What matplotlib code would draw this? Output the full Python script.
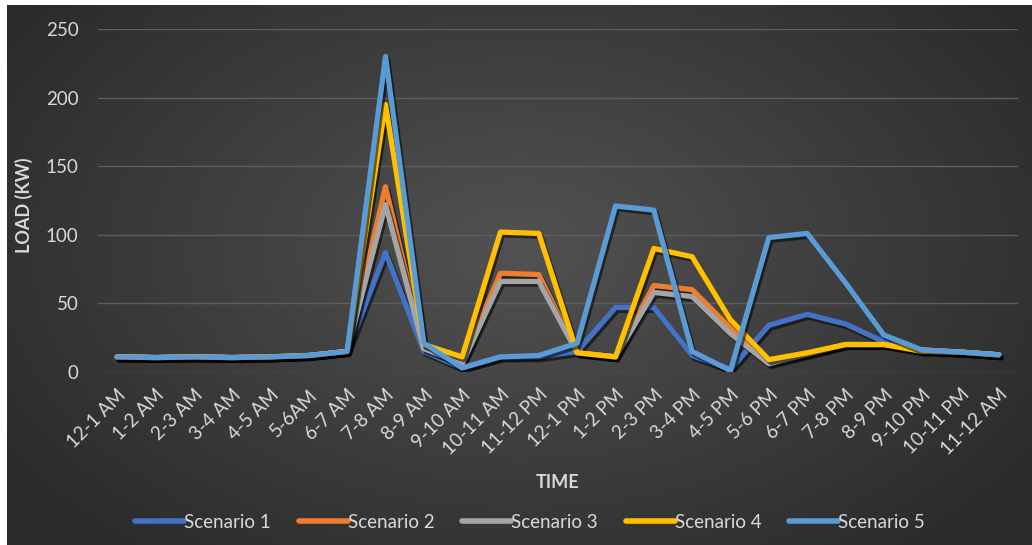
import numpy as np
import matplotlib
matplotlib.use("Agg")
import matplotlib.pyplot as plt
import matplotlib.patheffects as pe

# Hourly load profile for five scenarios (kW)
time_slots = ["12-1 AM", "1-2 AM", "2-3 AM", "3-4 AM", "4-5 AM", "5-6AM", "6-7 AM",
              "7-8 AM", "8-9 AM", "9-10 AM", "10-11 AM", "11-12 PM", "12-1 PM",
              "1-2 PM", "2-3 PM", "3-4 PM", "4-5 PM", "5-6 PM", "6-7 PM", "7-8 PM",
              "8-9 PM", "9-10 PM", "10-11 PM", "11-12 AM"]

scenario_1 = [11, 10.5, 11, 10.5, 11, 12, 15, 87, 15, 3, 11, 11, 15, 47, 47, 12, 2, 34, 42, 35, 22, 16, 14.5, 12.5]
scenario_2 = [11, 10.5, 11, 10.5, 11, 12, 15, 135, 18, 7, 72, 71, 14, 11, 63, 60, 32, 7, 13, 20, 20, 16, 14.5, 12.5]
scenario_3 = [11, 10.5, 11, 10.5, 11, 12, 15, 122, 17, 6, 66, 66, 14, 11, 58, 55, 28, 6, 13, 20, 20, 16, 14.5, 12.5]
scenario_4 = [11, 10.5, 11, 10.5, 11, 12, 15, 195, 20, 11, 102, 101, 14, 11, 90, 84, 38, 9, 14, 20, 20, 15, 14.5, 12.5]
scenario_5 = [11, 10.5, 11, 10.5, 11, 12, 15, 230, 21, 3, 11, 12, 21, 121, 118, 15, 1, 98, 101, 65, 27, 16, 14.5, 12.5]

series_names = ["Scenario 1", "Scenario 2", "Scenario 3", "Scenario 4", "Scenario 5"]
series_values = [scenario_1, scenario_2, scenario_3, scenario_4, scenario_5]
series_colors = ["#4472C4", "#ED7D31", "#A5A5A5", "#FFC000", "#5B9BD5"]

y_ticks = [0, 50, 100, 150, 200, 250]

W, H = 1032, 545
fig = plt.figure(figsize=(W / 100, H / 100), dpi=100, facecolor="white")
plt.rcParams["font.family"] = ["Lato", "DejaVu Sans"]

# Dark radial-gradient chart panel
bg = fig.add_axes([7 / W, 0, 1 - 7 / W, 1 - 5 / H])
bg.set_axis_off()
gx, gy = np.meshgrid(np.linspace(0, 1, 400), np.linspace(0, 1, 220))
r = np.sqrt(((gx - 0.5) / 0.62) ** 2 + ((gy - 0.45) / 0.75) ** 2)
r = np.clip(r, 0, 1)
light = np.array([0x52, 0x52, 0x52]) / 255
dark = np.array([0x2a, 0x2a, 0x2a]) / 255
img = light[None, None, :] * (1 - r[..., None]) + dark[None, None, :] * r[..., None]
bg.imshow(img, aspect="auto", extent=[0, 1, 0, 1], origin="upper")
bg.set_xlim(0, 1)
bg.set_ylim(0, 1)

ax = fig.add_axes([98 / W, 1 - 372 / H, 920 / W, 343 / H])
ax.patch.set_alpha(0)
x = np.arange(len(time_slots))

shadow = [pe.SimpleLineShadow(offset=(1.5, -2), shadow_color="black", alpha=0.55),
          pe.Normal()]
for name, vals, col in zip(series_names, series_values, series_colors):
    ax.plot(x, vals, color=col, lw=3.8, label=name, solid_joinstyle="round",
            solid_capstyle="round", path_effects=shadow)

ax.set_xlim(-0.5, len(time_slots) - 0.5)
ax.set_ylim(0, 250)
ax.set_yticks(y_ticks)
ax.set_xticks(x)
ax.set_xticklabels(time_slots, rotation=45, ha="right", va="top",
                   rotation_mode="anchor")
ax.tick_params(colors="#d9d9d9", labelsize=13.5, length=0)
ax.tick_params(axis="y", pad=14)
ax.tick_params(axis="x", pad=10)
for s in ax.spines.values():
    s.set_visible(False)
ax.grid(axis="y", color="#5e5e5e", lw=1)
ax.set_axisbelow(True)

fig.text(24 / W, 1 - 205 / H, "LOAD (KW)", rotation=90, ha="center", va="center",
         color="#d9d9d9", fontsize=13, fontweight="bold")
fig.text(558 / W, 1 - 482 / H, "TIME", ha="center", va="center",
         color="#d9d9d9", fontsize=13, fontweight="bold")

leg = fig.legend(loc="center", bbox_to_anchor=(530 / W, 1 - 522 / H), ncol=5,
                 frameon=False, fontsize=13.5, labelcolor="#d9d9d9",
                 handlelength=2.6, handletextpad=0.0, columnspacing=1.5)
for h in leg.get_lines():
    h.set_linewidth(4)
    h.set_path_effects([])

fig.savefig("out.png", dpi=100, facecolor="white")
